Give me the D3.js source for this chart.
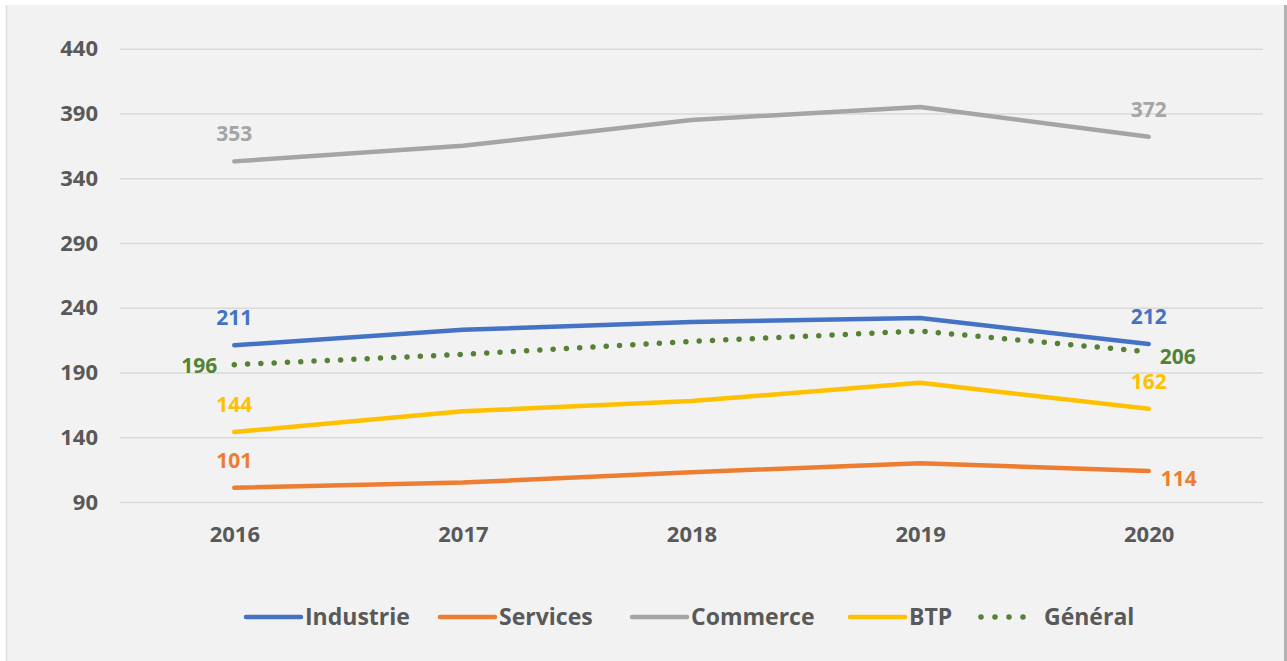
<!DOCTYPE html>
<html>
<head>
<meta charset="utf-8">
<script src="https://cdn.jsdelivr.net/npm/d3@7"></script>
<style>
  body { margin: 0; background: #fff; }
  text { font-family: "Open Sans", sans-serif; font-weight: 700; }
</style>
</head>
<body>
<div class="chart"></div>
<script>
// chart values
var years = ["2016", "2017", "2018", "2019", "2020"];
var industrie = [211, 223, 229, 232, 212];
var services = [101, 105, 113, 120, 114];
var commerce = [353, 365, 385, 395, 372];
var btp = [144, 160, 168, 182, 162];
var general = [196, 204, 214, 222, 206];
var yTicks = [90, 140, 190, 240, 290, 340, 390, 440];

var svgWidth = 1287;
var svgHeight = 661;

var margin = { top: 48.7, right: 24, bottom: 159, left: 120 };
var width = svgWidth - margin.left - margin.right;
var height = svgHeight - margin.top - margin.bottom;

var series = [
  { name: "Industrie", values: industrie, color: "#4472C4", dotted: false },
  { name: "Services", values: services, color: "#ED7D31", dotted: false },
  { name: "Commerce", values: commerce, color: "#A5A5A5", dotted: false },
  { name: "BTP", values: btp, color: "#FFC000", dotted: false },
  { name: "Général", values: general, color: "#548235", dotted: true }
];

// where the first / last value labels sit relative to the point
var labelPos = {
  "Industrie": ["top", "top"],
  "Services": ["top", "right"],
  "Commerce": ["top", "top"],
  "BTP": ["top", "top"],
  "Général": ["left", "rightHigh"]
};

var svg = d3.select(".chart")
  .append("svg")
  .attr("width", svgWidth)
  .attr("height", svgHeight);

// panel
svg.append("rect")
  .attr("x", 6).attr("y", 5)
  .attr("width", 1278).attr("height", 656)
  .attr("fill", "#f2f2f2");
svg.append("line")
  .attr("x1", 6.5).attr("x2", 6.5).attr("y1", 5).attr("y2", 661)
  .attr("stroke", "#dedede").attr("stroke-width", 1.5);
svg.append("rect")
  .attr("x", 1284).attr("y", 5)
  .attr("width", 3).attr("height", 656)
  .attr("fill", "#b3b3b3");

var chartGroup = svg.append("g")
  .attr("transform", `translate(${margin.left}, ${margin.top})`);

var xScale = d3.scalePoint()
  .domain(years)
  .range([0, width])
  .padding(0.5);

var yScale = d3.scaleLinear()
  .domain([90, 440])
  .range([height, 0]);

// gridlines + y labels
var leftAxis = d3.axisLeft(yScale)
  .tickValues(yTicks)
  .tickSize(-width)
  .tickPadding(22)
  .tickFormat(d3.format("d"));

var yAxisG = chartGroup.append("g").call(leftAxis);
yAxisG.select(".domain").remove();
yAxisG.selectAll(".tick line").attr("stroke", "#d9d9d9").attr("stroke-width", 1.5);
yAxisG.selectAll(".tick text")
  .attr("fill", "#595959")
  .attr("font-size", 22);

var bottomAxis = d3.axisBottom(xScale).tickSize(0).tickPadding(24);
var xAxisG = chartGroup.append("g")
  .attr("transform", `translate(0, ${height})`)
  .call(bottomAxis);
xAxisG.select(".domain").remove();
xAxisG.selectAll(".tick text")
  .attr("fill", "#595959")
  .attr("font-size", 22);

var line = d3.line()
  .x((d, i) => xScale(years[i]))
  .y(d => yScale(d));

series.forEach(function (s) {
  var path = chartGroup.append("path")
    .datum(s.values)
    .attr("d", line)
    .attr("fill", "none")
    .attr("stroke", s.color)
    .attr("stroke-linecap", "round")
    .attr("stroke-linejoin", "round");
  if (s.dotted) {
    path.attr("stroke-width", 5.5).attr("stroke-dasharray", "0 13.3");
  } else {
    path.attr("stroke-width", 4.5);
  }

  // first and last value labels
  [0, years.length - 1].forEach(function (i, k) {
    var pos = labelPos[s.name][k];
    var x = xScale(years[i]);
    var y = yScale(s.values[i]);
    var t = chartGroup.append("text")
      .text(s.values[i])
      .attr("fill", s.color)
      .attr("font-size", 21);
    if (pos === "top") {
      t.attr("x", x).attr("y", y - 20).attr("text-anchor", "middle");
    } else if (pos === "left") {
      t.attr("x", x - 17).attr("y", y + 8).attr("text-anchor", "end");
    } else if (pos === "rightHigh") {
      t.attr("x", x + 11).attr("y", y + 12).attr("text-anchor", "start");
    } else {
      t.attr("x", x + 12).attr("y", y + 15).attr("text-anchor", "start");
    }
  });
});

// legend
var legendX = [246, 440, 632, 850, 981];
var legendY = 617;
var legend = svg.append("g");
series.forEach(function (s, i) {
  var g = legend.append("g").attr("transform", `translate(${legendX[i]}, ${legendY})`);
  var l = g.append("line")
    .attr("x1", 0).attr("x2", s.dotted ? 48 : 55)
    .attr("y1", 0).attr("y2", 0)
    .attr("stroke", s.color)
    .attr("stroke-linecap", "round");
  if (s.dotted) {
    l.attr("stroke-width", 5.5).attr("stroke-dasharray", "0 14");
  } else {
    l.attr("stroke-width", 4.5);
  }
  g.append("text")
    .attr("x", s.dotted ? 63 : 59)
    .attr("y", 8)
    .attr("fill", "#595959")
    .attr("font-size", 23)
    .text(s.name);
});
</script>
</body>
</html>
